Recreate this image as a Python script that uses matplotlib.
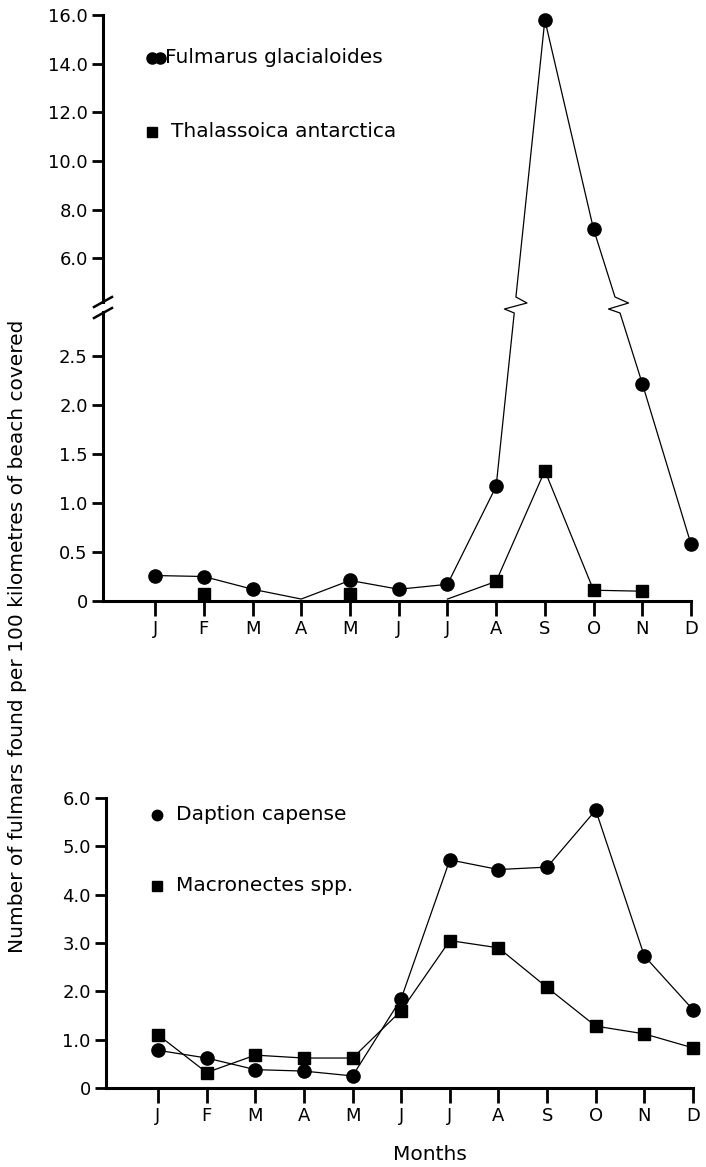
import numpy as np
import matplotlib
matplotlib.use("Agg")
import matplotlib.pyplot as plt
from matplotlib.transforms import blended_transform_factory

# ---------------- data ----------------
months = ["J", "F", "M", "A", "M", "J", "J", "A", "S", "O", "N", "D"]
nan = np.nan

fulmarus = [0.26, 0.25, 0.12, 0.02, 0.21, 0.12, 0.17, 1.17, 15.8, 7.2, 2.22, 0.58]
fulmarus_shown = [1, 1, 1, 0, 1, 1, 1, 1, 1, 1, 1, 1]
thalassoica = [nan, 0.07, nan, nan, 0.07, nan, 0.02, 0.20, 1.33, 0.11, 0.10, nan]
thalassoica_shown = [0, 1, 0, 0, 1, 0, 0, 1, 1, 1, 1, 0]

daption = [0.78, 0.62, 0.38, 0.35, 0.25, 1.85, 4.72, 4.52, 4.57, 5.75, 2.73, 1.62]
macronectes = [1.10, 0.32, 0.68, 0.62, 0.62, 1.60, 3.05, 2.90, 2.08, 1.28, 1.12, 0.83]

top_ticks = [0, 0.5, 1.0, 1.5, 2.0, 2.5, 6.0, 8.0, 10.0, 12.0, 14.0, 16.0]
bottom_ticks = [0, 1.0, 2.0, 3.0, 4.0, 5.0, 6.0]

ylabel = "Number of fulmars found per 100 kilometres of beach covered"

# ---------------- broken scale for upper panel ----------------
KY = np.array([0.0, 2.94, 4.7, 16.0])
KT = np.array([0.0, 288.0, 311.0, 586.0])


def fwd(y):
    y = np.asarray(y, dtype=float)
    lo = y < 0
    hi = y > KY[-1]
    out = np.interp(y, KY, KT)
    out = np.where(lo, y * (KT[1] / KY[1]), out)
    out = np.where(hi, KT[-1] + (y - KY[-1]) * 24.3, out)
    return out


def inv(t):
    t = np.asarray(t, dtype=float)
    lo = t < 0
    hi = t > KT[-1]
    out = np.interp(t, KT, KY)
    out = np.where(lo, t * (KY[1] / KT[1]), out)
    out = np.where(hi, KY[-1] + (t - KT[-1]) / 24.3, out)
    return out


def with_breaks(xv, yv):
    """Insert zigzag points where a segment crosses the break gap."""
    xs, ys = [xv[0]], [yv[0]]
    for i in range(1, len(xv)):
        x0, y0, x1, y1 = xv[i - 1], yv[i - 1], xv[i], yv[i]
        if not (np.isnan(y0) or np.isnan(y1)) and min(y0, y1) < KY[1] and max(y0, y1) > KY[2]:
            t0, t1 = float(fwd(y0)), float(fwd(y1))

            def at(t):
                return x0 + (x1 - x0) * (t - t0) / (t1 - t0)

            seq = [(at(288), 288), (at(292) - 0.21, 292), (at(298) + 0.24, 298), (at(304), 304)]
            if t0 > t1:
                seq = seq[::-1]
            for xx, tt in seq:
                xs.append(xx)
                ys.append(float(inv(tt)))
        xs.append(x1)
        ys.append(y1)
    return np.array(xs), np.array(ys)


# ---------------- figure ----------------
plt.rcParams['font.family'] = ['DejaVu Sans']
W, H = 706, 1167
fig = plt.figure(figsize=(W / 100, H / 100), dpi=100)

x = np.arange(1, 13)

LW_SPINE = 2.2
LW_LINE = 0.9
MS_C = 9.5
MS_S = 8.5
FS_TICK = 13
FS_LEG = 14.5
FS_LAB = 14.5


def style_axes(ax):
    for s in ("top", "right"):
        ax.spines[s].set_visible(False)
    for s in ("left", "bottom"):
        ax.spines[s].set_linewidth(LW_SPINE)
    ax.set_xlim(-0.07, 12)
    ax.set_xticks(x)
    ax.set_xticklabels(months, fontsize=FS_TICK)
    ax.tick_params(axis="x", direction="out", length=11, width=2, pad=3)
    ax.tick_params(axis="y", direction="out", length=8, width=2, pad=3, labelsize=FS_TICK)
    ax.patch.set_alpha(0)


# ---- top panel ----
ax1 = fig.add_axes([103 / W, 1 - 601 / H, (691 - 103) / W, (601 - 15) / H])
ax1.set_yscale("function", functions=(fwd, inv))
ax1.set_ylim(0, 16)
style_axes(ax1)
ax1.set_yticks(top_ticks)
ax1.set_yticklabels(["0" if v == 0 else f"{v:.1f}" for v in top_ticks])

fx, fy = with_breaks(x, np.array(fulmarus))
ax1.plot(fx, fy, color="black", lw=LW_LINE, clip_on=False, zorder=2)
fm = np.where(np.array(fulmarus_shown) == 1, fulmarus, nan)
ax1.plot(x, fm, ls="none", marker="o", ms=MS_C, color="black", clip_on=False, zorder=3)

ax1.plot(x, thalassoica, color="black", lw=LW_LINE, clip_on=False, zorder=2)
tm = np.where(np.array(thalassoica_shown) == 1, thalassoica, nan)
ax1.plot(x, tm, ls="none", marker="s", ms=MS_S, color="black", clip_on=False, zorder=3)

# axis-break marks on the y spine
bt = blended_transform_factory(ax1.transAxes, ax1.transData)
dx = 9 / (691 - 103)
for tt in (288, 299):
    ylo = float(inv(tt - 5))
    yhi = float(inv(tt + 5))
    ax1.plot([-dx, dx], [ylo, yhi], color="black", lw=1.8, transform=bt, clip_on=False, zorder=5)
ax1.plot([0, 0], [float(inv(290)), float(inv(297))], color="white", lw=4, transform=bt,
         clip_on=False, zorder=4, solid_capstyle="butt")

# legend (top)
ax1.plot([0.94, 1.1], [14.25, 14.25], ls="none", marker="o", ms=MS_C - 1.5, color="black", clip_on=False)
ax1.text(1.2, 14.25, "Fulmarus glacialoides", fontsize=FS_LEG, va="center", ha="left")
ax1.plot([0.94], [11.2], ls="none", marker="s", ms=MS_S - 1, color="black", clip_on=False)
ax1.text(1.32, 11.2, "Thalassoica antarctica", fontsize=FS_LEG, va="center", ha="left")

# ---- bottom panel ----
ax2 = fig.add_axes([106 / W, 1 - 1088 / H, (693 - 106) / W, (1088 - 798) / H])
ax2.set_ylim(0, 6)
style_axes(ax2)
ax2.set_yticks(bottom_ticks)
ax2.set_yticklabels(["0" if v == 0 else f"{v:.1f}" for v in bottom_ticks])

ax2.plot(x, daption, color="black", lw=LW_LINE, marker="o", ms=MS_C, clip_on=False, zorder=3)
ax2.plot(x, macronectes, color="black", lw=LW_LINE, marker="s", ms=MS_S, clip_on=False, zorder=3)

ax2.plot([0.97], [5.65], ls="none", marker="o", ms=MS_C - 2, color="black", clip_on=False)
ax2.text(1.37, 5.65, "Daption capense", fontsize=FS_LEG, va="center", ha="left")
ax2.plot([0.97], [4.18], ls="none", marker="s", ms=MS_S - 1.5, color="black", clip_on=False)
ax2.text(1.37, 4.18, "Macronectes spp.", fontsize=FS_LEG, va="center", ha="left")

fig.text(430 / W, 1 - 1155 / H, "Months", fontsize=FS_LAB, va="center", ha="center")
fig.text(18 / W, 1 - 636 / H, ylabel, rotation=90, fontsize=FS_LAB, va="center", ha="center")

fig.savefig("out.png", dpi=100)
